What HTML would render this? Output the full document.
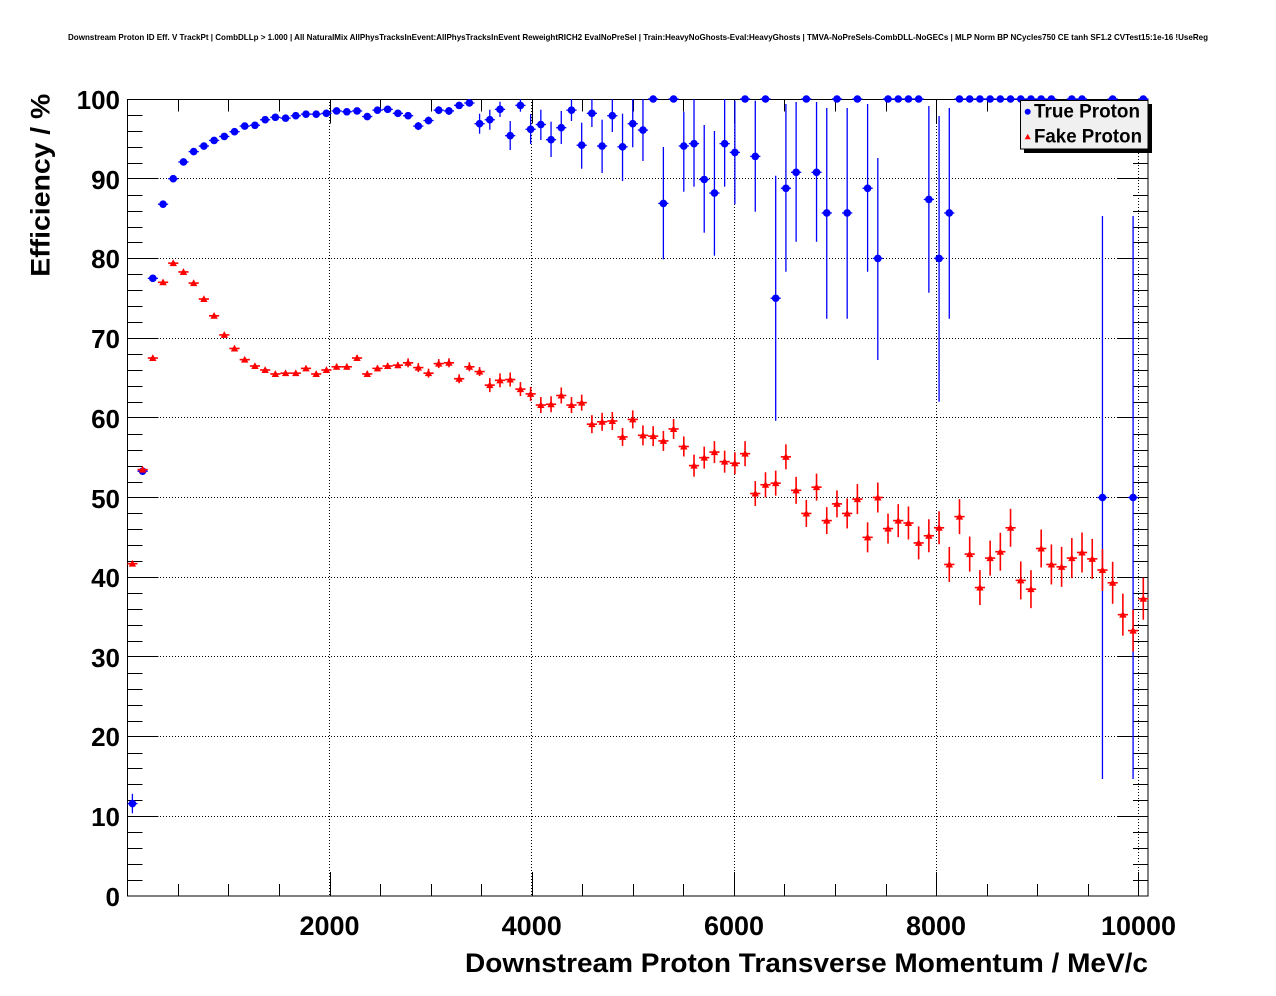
<!DOCTYPE html>
<html><head><meta charset="utf-8">
<style>html,body{margin:0;padding:0;background:#fff;}svg{display:block;}</style></head>
<body>
<svg id="c" width="1276" height="996" xmlns="http://www.w3.org/2000/svg" font-family="'Liberation Sans', Arial, sans-serif" font-weight="bold">
<rect width="1276" height="996" fill="#fff"/>
<text x="68" y="40" font-size="8.5" textLength="1140" lengthAdjust="spacingAndGlyphs">Downstream Proton ID Eff. V TrackPt | CombDLLp &gt; 1.000 | All NaturalMix AllPhysTracksInEvent:AllPhysTracksInEvent ReweightRICH2 EvalNoPreSel | Train:HeavyNoGhosts-Eval:HeavyGhosts | TMVA-NoPreSels-CombDLL-NoGECs | MLP Norm BP NCycles750 CE tanh SF1.2 CVTest15:1e-16 !UseReg</text>
<g stroke="#000" stroke-width="1" stroke-dasharray="1 2" fill="none">
<line x1="329.5" y1="99" x2="329.5" y2="896"/>
<line x1="531.5" y1="99" x2="531.5" y2="896"/>
<line x1="734.5" y1="99" x2="734.5" y2="896"/>
<line x1="936.5" y1="99" x2="936.5" y2="896"/>
<line x1="1138.5" y1="99" x2="1138.5" y2="896"/>
<line x1="127" y1="816.5" x2="1148" y2="816.5"/>
<line x1="127" y1="736.5" x2="1148" y2="736.5"/>
<line x1="127" y1="656.5" x2="1148" y2="656.5"/>
<line x1="127" y1="577.5" x2="1148" y2="577.5"/>
<line x1="127" y1="497.5" x2="1148" y2="497.5"/>
<line x1="127" y1="417.5" x2="1148" y2="417.5"/>
<line x1="127" y1="338.5" x2="1148" y2="338.5"/>
<line x1="127" y1="258.5" x2="1148" y2="258.5"/>
<line x1="127" y1="178.5" x2="1148" y2="178.5"/>
</g>
<rect x="127.5" y="99.5" width="1020.5" height="796.5" fill="none" stroke="#000" stroke-width="1"/>
<g id="ticks" stroke="#000" stroke-width="1"></g>
<g font-size="26" text-anchor="end">
<text x="120" y="906">0</text>
<text x="120" y="826">10</text>
<text x="120" y="746">20</text>
<text x="120" y="667">30</text>
<text x="120" y="587">40</text>
<text x="120" y="508">50</text>
<text x="120" y="428">60</text>
<text x="120" y="348">70</text>
<text x="120" y="268">80</text>
<text x="120" y="189">90</text>
<text x="120" y="109">100</text>
</g>
<g font-size="27" text-anchor="middle">
<text x="329.5" y="935">2000</text>
<text x="531.7" y="935">4000</text>
<text x="734" y="935">6000</text>
<text x="936" y="935">8000</text>
<text x="1138.5" y="935">10000</text>
</g>
<text x="465" y="972" font-size="27" textLength="683" lengthAdjust="spacingAndGlyphs">Downstream Proton Transverse Momentum / MeV/c</text>
<text transform="translate(49.5,276.7) rotate(-90)" font-size="27" textLength="183" lengthAdjust="spacingAndGlyphs">Efficiency / %</text>
<g id="data"></g>
<g id="legend">
<rect x="1024" y="104" width="128" height="49" fill="#000"/>
<rect x="1020.5" y="100.5" width="127.5" height="48.5" fill="#f0f0f0" stroke="#000" stroke-width="1"/>
<circle cx="1027.7" cy="111.7" r="3" fill="#0000ff"/>
<polygon points="1024.7,139.2 1030.7,139.2 1027.7,133.7" fill="#ff0000"/>
<text x="1034" y="117.3" font-size="19" textLength="106" lengthAdjust="spacingAndGlyphs">True Proton</text>
<text x="1034" y="142.3" font-size="19" textLength="108" lengthAdjust="spacingAndGlyphs">Fake Proton</text>
</g>
</svg>
<script>
(function(){
var NS="http://www.w3.org/2000/svg";
function el(parent,name,attrs){var e=document.createElementNS(NS,name);for(var a in attrs)e.setAttribute(a,attrs[a]);parent.appendChild(e);return e;}
var tg=document.getElementById('ticks');
// y ticks every 2 units
for(var v=2;v<100;v+=2){
  var y=Math.round(896-v*7.97)+0.5; if(v%10==0) y=[0,816.5,736.5,656.5,577.5,497.5,417.5,338.5,258.5,178.5][v/10];
  var L=(v%10==0)?31:15;
  el(tg,'line',{x1:127.5,y1:y,x2:127.5+L,y2:y});
  el(tg,'line',{x1:1148,y1:y,x2:1148-L,y2:y});
}
// x ticks every 500
for(var xv=500;xv<=10000;xv+=500){
  var x=Math.round(127.3+xv*0.1011)+0.5;
  var L=(xv%2000==0)?24:12;
  el(tg,'line',{x1:x,y1:896,x2:x,y2:896-L});
  el(tg,'line',{x1:x,y1:99.5,x2:x,y2:99.5+L});
}
var X=function(k){return 127.3+(k-0.5)*10.211;};
var Y=function(v){return 896-v*7.97;};
var blue=[[1,11.6,9.7],[2,53.3,2],[3,77.5,1],[4,86.8,1],[5,90.0,1],[6,92.1,1],[7,93.4,1],[8,94.1,1],[9,94.8,1],[10,95.3,1],[11,95.9,1],[12,96.6,1],[13,96.7,1.5],[14,97.4,1.5],[15,97.7,1.5],[16,97.6,1.5],[17,97.9,2],[18,98.1,2],[19,98.1,2],[20,98.2,2],[21,98.5,2],[22,98.4,2],[23,98.5,2.5],[24,97.8,3],[25,98.6,2.5],[26,98.7,2.5],[27,98.2,3],[28,97.9,3.5],[29,96.6,4],[30,97.3,4],[31,98.6,4],[32,98.5,4],[33,99.2,3],[34,99.5,2],[35,96.9,10],[36,97.4,10],
[37,98.7,101.7,117],[38,95.4,121,150],[39,99.2,99,111.7],[40,96.2,114,144],[41,96.8,109.7,140],[42,94.9,121.7,157],[43,96.4,111,144],[44,98.6,99,121],[45,94.2,122.7,168.7],[46,98.2,99,127],[47,94.1,119.7,173],[48,97.9,99,132],[49,94.0,113.7,181],[50,96.9,99,147.3],[51,96.1,99,161],[52,100,0],[53,86.9,147,259.3],[54,100,0],[55,94.1,111.7,191.7],[56,94.4,99,186.7],[57,89.9,125,232.7],[58,88.2,131,255.7],[59,94.4,99,186.7],[60,93.3,100.7,204.3],[61,100,0],[62,92.8,100.7,211.7],[63,100,0],[64,75.0,175.7,420.7],[65,88.8,104,271.7],[66,90.8,102,241.7],[67,100,0],[68,90.8,102,241.7],[69,85.7,108,318.7],[70,100,0],[71,85.7,108,318.7],[72,100,0],[73,88.8,104,271.7],[74,80.0,158,360],[75,100,0],[76,100,0],[77,100,0],[78,100,0],[79,87.4,106,292.7],[80,80.0,116,401.7],[81,85.7,108,318.7],
[82,100,0],[83,100,0],[84,100,0],[85,100,0],[86,100,0],[87,100,0],[88,100,0],[89,100,0],[90,100,0],[91,100,0],[93,100,0],[94,100,0],[96,50,216,779],[97,100,0],[99,50,216,779],[100,100,0]];
var red=[41.7,53.5,67.5,77.0,79.4,78.3,76.9,74.9,72.8,70.4,68.7,67.3,66.5,66.0,65.5,65.6,65.6,66.2,65.5,66.0,66.4,66.4,67.5,65.5,66.2,66.5,66.6,66.9,66.3,65.6,66.8,66.9,64.9,66.4,65.8,64.1,64.7,64.8,63.6,63.0,61.6,61.7,62.8,61.6,61.9,59.2,59.5,59.6,57.6,59.8,57.8,57.7,57.1,58.6,56.4,54.0,55.0,55.7,54.5,54.3,55.5,50.5,51.6,51.8,55.1,50.9,48.0,51.3,47.1,49.2,48.0,49.8,45.0,50.0,46.1,47.1,46.8,44.3,45.2,46.2,41.6,47.6,42.9,38.7,42.4,43.2,46.2,39.6,38.5,43.6,41.6,41.3,42.4,43.1,42.3,40.9,39.3,35.3,33.3,37.3];
function rerr(k){if(k<=10)return 1.5;if(k<=20)return 2;if(k<=27)return 3;if(k<=35)return 4.5;if(k<=40)return 7;if(k<=45)return 8;if(k<=50)return 9;if(k<=55)return 10;if(k<=60)return 11;if(k<=65)return 12.5;if(k<=70)return 13.5;if(k<=75)return 15;if(k<=80)return 16.5;if(k<=85)return 17.5;if(k<=90)return 19;if(k<=95)return 20;return 21;}
var dg=document.getElementById('data');
var gb=el(dg,'g',{});
blue.forEach(function(b){
  var k=b[0],cx=X(k),cy=Y(b[1]),top,bot;
  if(b.length==3){top=cy-b[2];bot=cy+b[2];}else{top=b[2];bot=b[3];}
  if(bot-top>0.5) el(gb,'line',{x1:cx,y1:top,x2:cx,y2:bot,stroke:'#0000ff','stroke-width':1.3});
  el(gb,'line',{x1:cx-5.1,y1:cy,x2:cx+5.1,y2:cy,stroke:'#0000ff','stroke-width':1.3});
  el(gb,'circle',{cx:cx,cy:cy,r:3.8,fill:'#0000ff'});
});
var gr=el(dg,'g',{});
red.forEach(function(v,i){
  var k=i+1,cx=X(k),cy=Y(v),e=rerr(k);
  el(gr,'line',{x1:cx,y1:cy-e,x2:cx,y2:cy+e,stroke:'#ff0000','stroke-width':1.6});
  el(gr,'line',{x1:cx-5.1,y1:cy,x2:cx+5.1,y2:cy,stroke:'#ff0000','stroke-width':1.6});
  el(gr,'polygon',{points:(cx-3.7)+','+(cy+3)+' '+(cx+3.7)+','+(cy+3)+' '+cx+','+(cy-3.8),fill:'#ff0000'});
});
})();
</script>
</body></html>
